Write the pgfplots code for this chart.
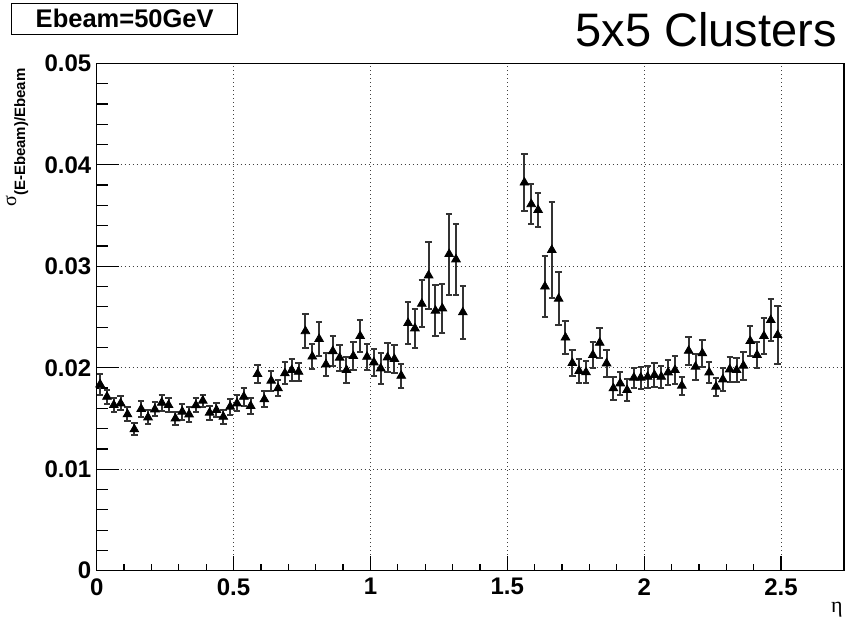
\documentclass[border=0pt]{standalone}
\usepackage{pgfplots}
\pgfplotsset{compat=1.18}
\usepackage{pgfplotstable}
\usepackage{fontspec}
\setmainfont{Liberation Sans}
\newfontfamily\symfont{Liberation Serif}

% eta bin centre, relative energy resolution, statistical error
\pgfplotstableread{
eta     res      err
0.0125  0.01836  0.0010
0.0375  0.01714  0.0007
0.0625  0.01632  0.0007
0.0875  0.01649  0.0007
0.1125  0.01541  0.0007
0.1375  0.01393  0.0006
0.1625  0.01593  0.0008
0.1875  0.01511  0.0007
0.2125  0.01590  0.0007
0.2375  0.01655  0.0008
0.2625  0.01632  0.0007
0.2875  0.01500  0.0006
0.3125  0.01567  0.0008
0.3375  0.01540  0.0007
0.3625  0.01630  0.0007
0.3875  0.01675  0.0006
0.4125  0.01557  0.0007
0.4375  0.01583  0.0007
0.4625  0.01517  0.0007
0.4875  0.01616  0.0008
0.5125  0.01649  0.0008
0.5375  0.01714  0.0009
0.5625  0.01623  0.0008
0.5875  0.01938  0.0009
0.6125  0.01689  0.0008
0.6375  0.01872  0.0010
0.6625  0.01797  0.0008
0.6875  0.01945  0.0011
0.7125  0.01977  0.0011
0.7375  0.01960  0.0009
0.7625  0.02360  0.0017
0.7875  0.02110  0.0012
0.8125  0.02283  0.0017
0.8375  0.02033  0.0011
0.8625  0.02164  0.0015
0.8875  0.02099  0.0013
0.9125  0.01977  0.0013
0.9375  0.02115  0.0014
0.9625  0.02312  0.0016
0.9875  0.02108  0.0013
1.0125  0.02053  0.0013
1.0375  0.01994  0.0015
1.0625  0.02102  0.0014
1.0875  0.02086  0.0014
1.1125  0.01921  0.0012
1.1375  0.02440  0.0021
1.1625  0.02388  0.0019
1.1875  0.02630  0.0023
1.2125  0.02910  0.0033
1.2375  0.02562  0.0025
1.2625  0.02585  0.0024
1.2875  0.03120  0.0040
1.3125  0.03068  0.0035
1.3375  0.02546  0.0026
1.5625  0.03825  0.0028
1.5875  0.03612  0.0020
1.6125  0.03554  0.0017
1.6375  0.02800  0.0030
1.6625  0.03160  0.0047
1.6875  0.02680  0.0026
1.7125  0.02298  0.0016
1.7375  0.02046  0.0013
1.7625  0.01967  0.0012
1.7875  0.01955  0.0011
1.8125  0.02125  0.0013
1.8375  0.02246  0.0015
1.8625  0.02043  0.0013
1.8875  0.01797  0.0011
1.9125  0.01846  0.0011
1.9375  0.01780  0.0011
1.9625  0.01902  0.0010
1.9875  0.01902  0.0011
2.0125  0.01911  0.0011
2.0375  0.01928  0.0012
2.0625  0.01911  0.0011
2.0875  0.01954  0.0012
2.1125  0.01977  0.0014
2.1375  0.01823  0.0009
2.1625  0.02167  0.0014
2.1875  0.02010  0.0013
2.2125  0.02142  0.0013
2.2375  0.01954  0.0010
2.2625  0.01813  0.0009
2.2875  0.01885  0.0011
2.3125  0.01984  0.0012
2.3375  0.01977  0.0012
2.3625  0.02020  0.0014
2.3875  0.02263  0.0015
2.4125  0.02125  0.0013
2.4375  0.02312  0.0018
2.4625  0.02470  0.0021
2.4875  0.02322  0.0029
}\restable

\pgfplotsset{
  frame/.style={
    scale only axis,
    width=373.65pt, height=253.7pt,
    at={(0pt,0pt)}, anchor=south west,
    xmin=0, xmax=2.73, ymin=0, ymax=0.05,
    scaled ticks=false,
    tick align=inside,
  },
}

\begin{document}
\begin{tikzpicture}
\useasboundingbox (-48.35pt,-25.65pt) rectangle (375.15pt,285.35pt);

% data, grid, y ticks and all tick labels
\begin{axis}[
  frame,
  clip=false,
  axis line style={black, line width=0.6pt},
  xtick={0,0.5,1,1.5,2,2.5},
  xticklabels={0,0.5,1,1.5,2,2.5},
  ytick={0,0.01,0.02,0.03,0.04,0.05},
  yticklabels={0,0.01,0.02,0.03,0.04,0.05},
  minor y tick num=4,
  xtick pos=left, ytick pos=left,
  major tick length=11.2pt, minor tick length=5.6pt,
  ytick style={black, line width=0.6pt},
  xtick style={draw=none},
  grid=major,
  major grid style={black!75, line width=0.5pt, dash pattern=on 0.6pt off 1.4pt},
  ticklabel style={font=\bfseries\fontsize{12}{14}\selectfont, inner sep=0pt},
  xticklabel style={anchor=north, yshift=-3.6pt},
  yticklabel style={anchor=east, xshift=-2.5pt},
]
\addplot[
  black, only marks,
  mark=triangle*, mark size=2.5pt,
  error bars/.cd,
    y dir=both, y explicit,
    error bar style={black!80, line width=1pt},
    error mark options={rotate=90, black!80, mark size=1.6pt, line width=1pt},
] table[x=eta, y=res, y error=err] {\restable};
\end{axis}

% x ticks: shorter than the y ticks
\begin{axis}[
  frame,
  axis line style={draw=none},
  ytick=\empty,
  xtick={0,0.5,1,1.5,2,2.5},
  xticklabels={},
  minor x tick num=4,
  xtick pos=left,
  major tick length=7.5pt, minor tick length=3.6pt,
  xtick style={black, line width=0.6pt},
]
\end{axis}

% labels and title box
\node[draw=black, line width=0.6pt, fill=white, minimum width=113pt, minimum height=15.5pt, inner sep=0pt]
  at (14pt,276pt) {\bfseries\fontsize{12.75}{14}\selectfont Ebeam=50GeV};
\node[anchor=base east, inner sep=0pt] at (370.15pt,261.85pt)
  {\fontsize{23.5}{28}\selectfont 5x5 Clusters};
\node[anchor=base east, inner sep=0pt] at (373.15pt,-20.65pt)
  {\symfont\fontsize{11}{13}\selectfont η};
\node[rotate=90, anchor=east, inner sep=0pt] at (-39.85pt,251.35pt)
  {{\symfont\fontsize{10}{12}\selectfont σ}\raisebox{-4.5pt}{\bfseries\fontsize{7.5}{9}\selectfont (E-Ebeam)/Ebeam}};
\end{tikzpicture}
\end{document}
